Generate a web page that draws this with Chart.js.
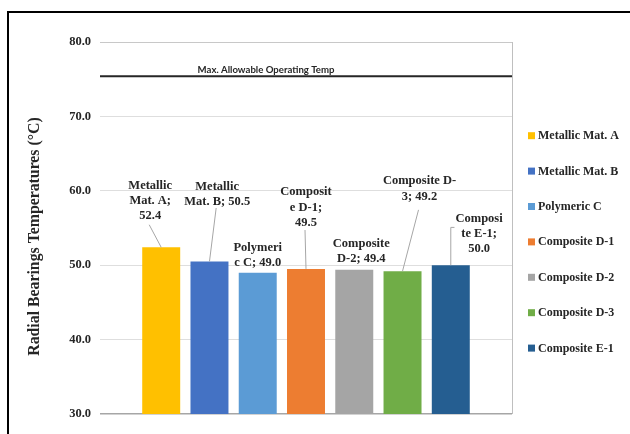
<!DOCTYPE html>
<html>
<head>
<meta charset="utf-8">
<script src="https://cdn.jsdelivr.net/npm/chart.js@4.4.1/dist/chart.umd.min.js"></script>
<style>
  html, body { margin: 0; padding: 0; background: #fff; overflow: hidden; }
  #wrap { position: relative; width: 630px; height: 434px; overflow: hidden; }
  #frame {
    position: absolute; left: 7px; top: 11px; width: 660px; height: 460px;
    border-left: 2px solid #000; border-top: 2px solid #000;
  }
  canvas { position: absolute; left: 0; top: 0; }
</style>
</head>
<body>
<div id="wrap">
  <div id="frame"></div>
  <canvas id="chart" width="630" height="434"></canvas>
</div>
<script>
const materials = [
  "Metallic Mat. A",
  "Metallic Mat. B",
  "Polymeric C",
  "Composite D-1",
  "Composite D-2",
  "Composite D-3",
  "Composite E-1",
];
const temperatures = [52.4, 50.5, 49.0, 49.5, 49.4, 49.2, 50.0];
const barColors = ["#FFC000", "#4472C4", "#5B9BD5", "#ED7D31", "#A5A5A5", "#70AD47", "#255E91"];

// data labels as Excel wrapped them
const labelLines = [
  ["Metallic", "Mat. A;", "52.4"],
  ["Metallic", "Mat. B; 50.5"],
  ["Polymeri", "c C; 49.0"],
  ["Composit", "e D-1;", "49.5"],
  ["Composite", "D-2; 49.4"],
  ["Composite D-", "3; 49.2"],
  ["Composi", "te E-1;", "50.0"],
];

const yMin = 30;
const yMax = 80;
const yStep = 10;
const yTitle = "Radial Bearings Temperatures (°C)";

const maxTemp = 75.4;
const maxTempLabel = "Max. Allowable Operating Temp";

const serif = "'Liberation Serif', 'DejaVu Serif', serif";
const textColor = "#262626";

// where each data label sits relative to the top of its bar, and how its leader line runs
const labelPlacement = [
  { dx: -11, gap: 31.6, leader: "line", ly: 9 },
  { dx: 7.7, gap: 60, leader: "line", ly: 6.5 },
  { dx: 0, gap: 9.5, leader: "none" },
  { dx: 0, gap: 46.4, leader: "line", ly: 7.5 },
  { dx: 7, gap: 10.6, leader: "none" },
  { dx: 17, gap: 74.8, leader: "line", ly: 13.5 },
  { dx: 28.3, gap: 16.4, leader: "elbow", ly: 9 },
];

const overlayPlugin = {
  id: "overlay",
  afterDatasetsDraw(chart) {
    const { ctx, chartArea, scales } = chart;
    const y = scales.y;
    ctx.save();

    // plot area right edge
    ctx.strokeStyle = "#bfbfbf";
    ctx.lineWidth = 1;
    ctx.beginPath();
    ctx.moveTo(chartArea.right + 0.5, chartArea.top);
    ctx.lineTo(chartArea.right + 0.5, chartArea.bottom);
    ctx.stroke();

    // max allowable line
    const my = y.getPixelForValue(maxTemp);
    ctx.strokeStyle = "#262626";
    ctx.lineWidth = 2;
    ctx.beginPath();
    ctx.moveTo(chartArea.left, my);
    ctx.lineTo(chartArea.right, my);
    ctx.stroke();
    ctx.fillStyle = textColor;
    ctx.font = "bold 9.6px Lato, 'Liberation Sans', sans-serif";
    ctx.textAlign = "center";
    ctx.textBaseline = "alphabetic";
    ctx.fillText(maxTempLabel, chartArea.left + 166, my - 3.5);

    // data labels
    const lh = 15.2;
    ctx.font = "bold 12.5px " + serif;
    ctx.textBaseline = "middle";
    materials.forEach((name, i) => {
      const bar = chart.getDatasetMeta(i).data[0];
      const p = labelPlacement[i];
      const lines = labelLines[i];
      const cx = bar.x + p.dx;
      const lastY = bar.y - p.gap;
      const firstY = lastY - (lines.length - 1) * lh;
      ctx.fillStyle = textColor;
      ctx.textAlign = "center";
      lines.forEach((t, k) => ctx.fillText(t, cx, firstY + k * lh));

      ctx.strokeStyle = "#a6a6a6";
      ctx.lineWidth = 1;
      if (p.leader === "line") {
        ctx.beginPath();
        ctx.moveTo(cx - 1, lastY + p.ly);
        ctx.lineTo(bar.x, bar.y);
        ctx.stroke();
      } else if (p.leader === "elbow") {
        const w = Math.max(...lines.map((t) => ctx.measureText(t).width));
        const ey = firstY + p.ly;
        ctx.beginPath();
        ctx.moveTo(cx - w / 2 - 1, ey);
        ctx.lineTo(bar.x, ey);
        ctx.lineTo(bar.x, bar.y);
        ctx.stroke();
      }
    });

    // y axis title
    ctx.save();
    ctx.translate(34.5, chartArea.top + 194.5);
    ctx.rotate(-Math.PI / 2);
    ctx.font = "bold 15.8px " + serif;
    ctx.fillStyle = textColor;
    ctx.textAlign = "center";
    ctx.textBaseline = "middle";
    ctx.fillText(yTitle, 0, 0);
    ctx.restore();

    // legend
    ctx.font = "bold 12px " + serif;
    ctx.textAlign = "left";
    ctx.textBaseline = "middle";
    materials.forEach((name, i) => {
      const ly = chartArea.top + 93.7 + i * 35.4;
      const lx = chartArea.right + 16;
      ctx.fillStyle = barColors[i];
      ctx.fillRect(lx, ly - 3.5, 7, 7);
      ctx.fillStyle = textColor;
      ctx.fillText(name, lx + 10, ly + 0.5);
    });

    ctx.restore();
  },
};

const ctx = document.getElementById("chart").getContext("2d");

new Chart(ctx, {
  type: "bar",
  data: {
    labels: [""],
    datasets: materials.map((name, i) => ({
      label: name,
      data: [temperatures[i]],
      backgroundColor: barColors[i],
      categoryPercentage: 0.82,
      barPercentage: 0.787,
    })),
  },
  options: {
    responsive: false,
    animation: false,
    layout: {
      padding: { left: 10, top: 42, right: 118, bottom: 20 },
    },
    plugins: {
      legend: { display: false },
      tooltip: { enabled: false },
    },
    scales: {
      x: {
        display: false,
      },
      y: {
        min: yMin,
        max: yMax,
        afterFit: (scale) => {
          scale.width = 90;
        },
        border: { display: false },
        grid: {
          drawTicks: false,
          color: (c) => (c.tick.value === yMin ? "#a6a6a6" : c.tick.value === yMax ? "#c8c8c8" : "#dedede"),
          lineWidth: (c) => (c.tick.value === yMin ? 1.5 : 1),
        },
        ticks: {
          stepSize: yStep,
          padding: 9,
          color: textColor,
          font: { family: serif, weight: "bold", size: 12.5 },
          callback: (v) => v.toFixed(1),
        },
      },
    },
  },
  plugins: [overlayPlugin],
});
</script>
</body>
</html>
